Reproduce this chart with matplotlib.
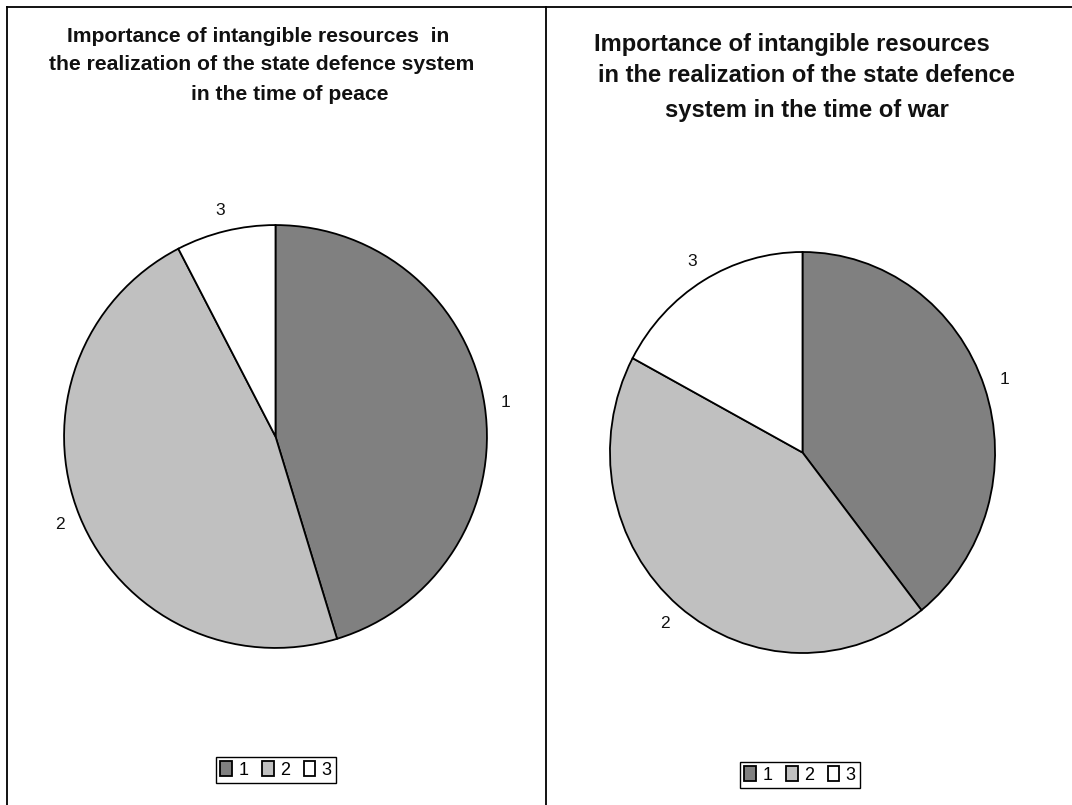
import matplotlib
matplotlib.use("Agg")
import matplotlib.pyplot as plt
from matplotlib.lines import Line2D

W, H = 1072, 805

categories = ["1", "2", "3"]
peace_values = [45.3, 47.1, 7.6]
war_values = [39.4, 43.4, 17.2]
colors = ["#808080", "#c0c0c0", "#ffffff"]

peace_title = ["Importance of intangible resources  in",
               "the realization of the state defence system",
               "in the time of peace"]
war_title = ["Importance of intangible resources",
             "in the realization of the state defence",
             "system in the time of war"]

plt.rcParams["font.family"] = ["Liberation Sans", "DejaVu Sans"]

fig = plt.figure(figsize=(W / 100, H / 100), dpi=100)


def px_axes(cx, cy, rx, ry):
    return fig.add_axes([(cx - rx) / W, (H - (cy + ry)) / H, 2 * rx / W, 2 * ry / H])


def draw_pie(ax, values, legend_center, ldist):
    wedges, texts = ax.pie(values, labels=categories, colors=colors, startangle=90,
                           counterclock=False, labeldistance=ldist, radius=1,
                           wedgeprops=dict(edgecolor="black", linewidth=1.3),
                           textprops=dict(fontsize=12.5, color="#111111"))
    for t in texts:
        t.set_ha("center")
        t.set_va("center")
    ax.set_xlim(-1.005, 1.005)
    ax.set_ylim(-1.005, 1.005)
    ax.set_aspect("auto")
    ax.axis("off")
    leg = fig.legend(wedges, categories, loc="center", ncol=3,
                     bbox_to_anchor=(legend_center[0] / W, 1 - legend_center[1] / H),
                     fontsize=13, frameon=True, fancybox=False, edgecolor="black",
                     framealpha=1, handlelength=0.65, handleheight=0.85,
                     handletextpad=0.35, columnspacing=0.75, borderpad=0.25,
                     borderaxespad=0)
    leg.get_frame().set_linewidth(1.0)
    return leg


ax1 = px_axes(275.5, 436.5, 212.5, 212.5)
draw_pie(ax1, peace_values, (276, 770), 1.1)

ax2 = px_axes(802.5, 452.5, 193.5, 201.5)
draw_pie(ax2, war_values, (800, 775), 1.11)

# Titles
left_pos = [(258, 37), (262, 65), (290, 94)]
for (x, y), line in zip(left_pos, peace_title):
    fig.text(x / W, 1 - y / H, line, ha="center", va="center", fontsize=15.2,
             fontweight="bold", color="#111111")
right_pos = [(792, 44), (806, 76), (807, 110)]
for (x, y), line in zip(right_pos, war_title):
    fig.text(x / W, 1 - y / H, line, ha="center", va="center", fontsize=17.1,
             fontweight="bold", color="#111111")

# Panel borders: top, left, divider
fig.add_artist(Line2D([7 / W, 1], [1 - 7 / H, 1 - 7 / H], color="black", lw=1.3,
                      transform=fig.transFigure))
fig.add_artist(Line2D([7 / W, 7 / W], [0, 1 - 7 / H], color="black", lw=1.3,
                      transform=fig.transFigure))
fig.add_artist(Line2D([546 / W, 546 / W], [0, 1 - 7 / H], color="black", lw=1.3,
                      transform=fig.transFigure))

fig.savefig("out.png", dpi=100, facecolor="white")
